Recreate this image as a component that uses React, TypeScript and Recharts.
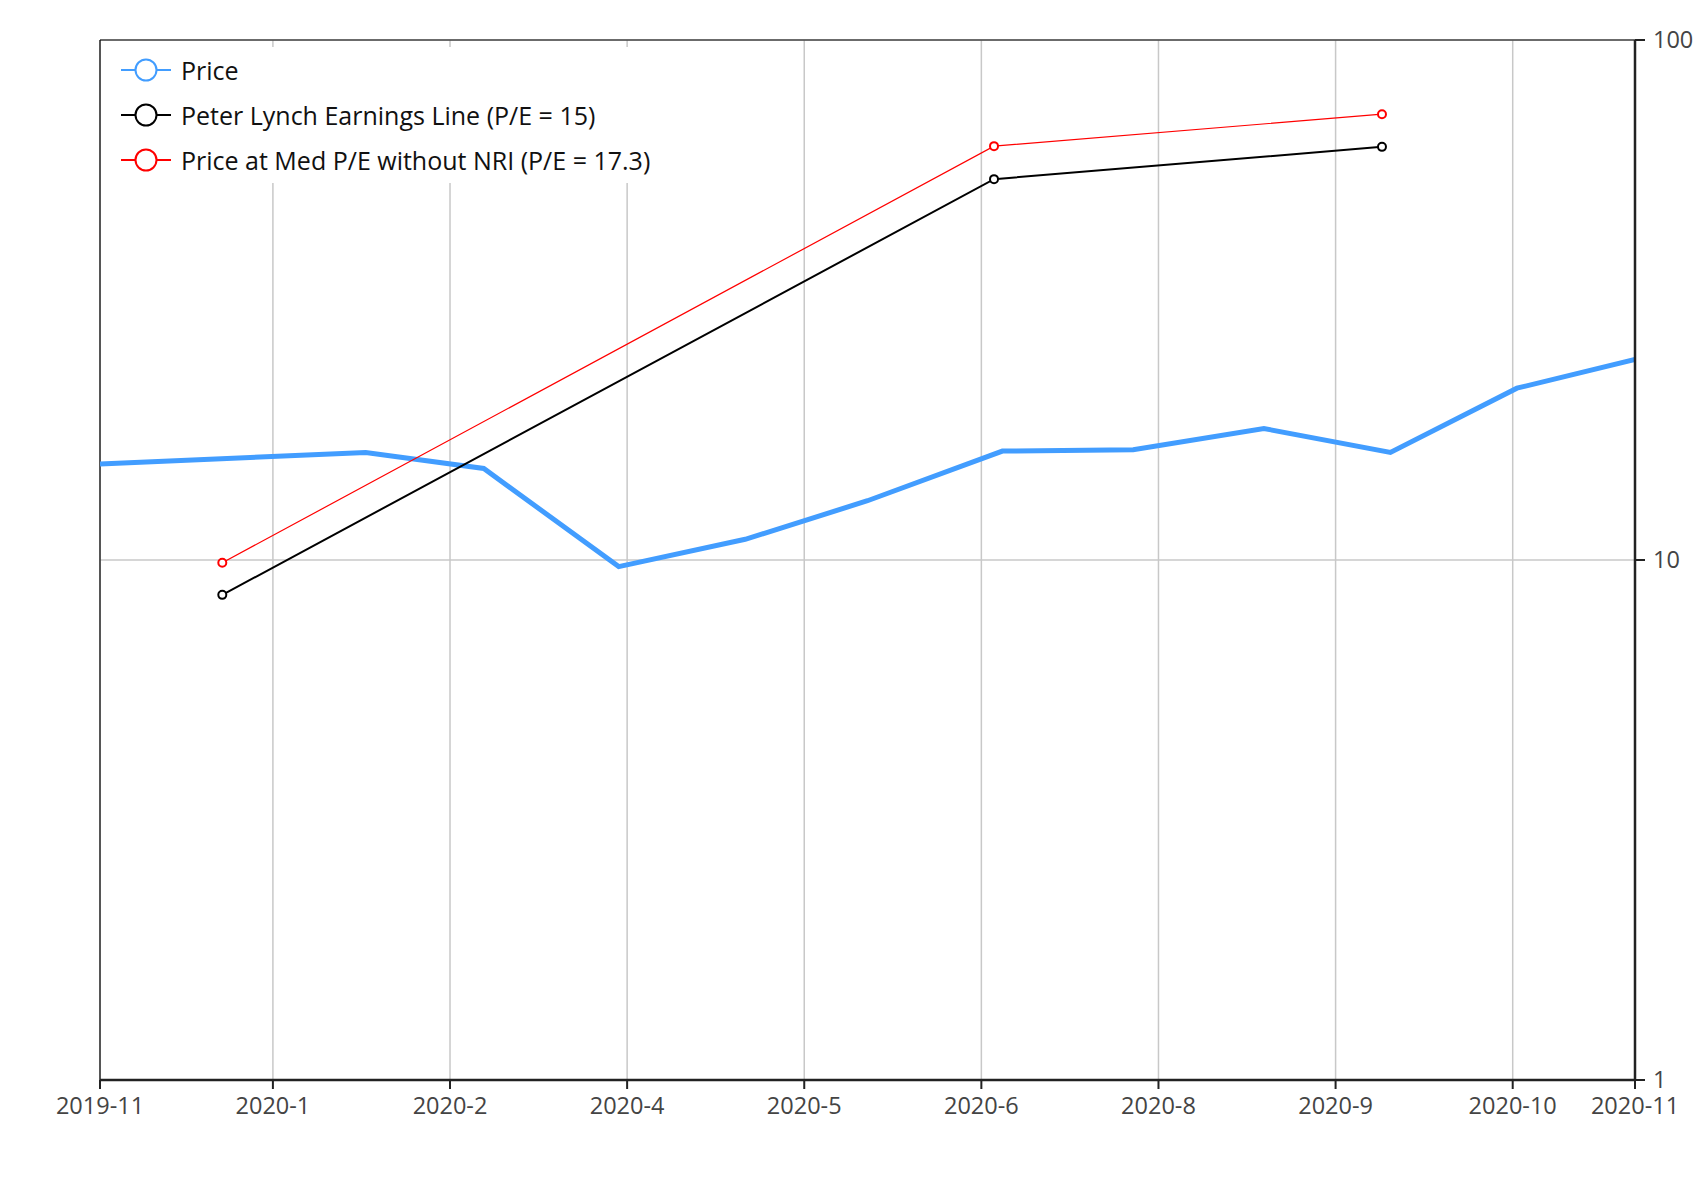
import React from "react";
import { CartesianGrid, Legend, Line, LineChart, ReferenceLine, XAxis, YAxis } from "recharts";

// monthly closing prices
const priceDates = [
  "2019-11-29", "2020-01-31", "2020-02-28", "2020-03-31", "2020-04-30", "2020-05-29",
  "2020-06-30", "2020-07-31", "2020-08-31", "2020-09-30", "2020-10-30", "2020-11-27",
];
const priceValues = [15.3, 16.1, 15.0, 9.71, 10.96, 13.0, 16.2, 16.3, 17.9, 16.1, 21.4, 24.3];

// quarterly earnings based lines
const earningsDates = ["2019-12-28", "2020-06-28", "2020-09-28"];
const lynchValues = [8.57, 54.0, 62.3];
const medPeValues = [9.88, 62.5, 72.0];

const seriesNames = [
  "Price",
  "Peter Lynch Earnings Line (P/E = 15)",
  "Price at Med P/E without NRI (P/E = 17.3)",
];

const xTickDates = [
  "2019-11-29", "2020-01-09", "2020-02-20", "2020-04-02", "2020-05-14",
  "2020-06-25", "2020-08-06", "2020-09-17", "2020-10-29", "2020-11-27",
];
const xTickLabels = [
  "2019-11", "2020-1", "2020-2", "2020-4", "2020-5",
  "2020-6", "2020-8", "2020-9", "2020-10", "2020-11",
];
const yTicks = [1, 10, 100];

const toTime = (s: string) => Date.parse(s + "T00:00:00Z");
const xTicks = xTickDates.map(toTime);

const priceData = priceDates.map((d, i) => ({ t: toTime(d), v: priceValues[i] }));
const lynchData = earningsDates.map((d, i) => ({ t: toTime(d), v: lynchValues[i] }));
const medPeData = earningsDates.map((d, i) => ({ t: toTime(d), v: medPeValues[i] }));

const FONT = "'Open Sans', 'Noto Sans', sans-serif";

function LegendBox({ payload }: any) {
  const items = [...(payload || [])].sort(
    (a: any, b: any) => seriesNames.indexOf(a.value) - seriesNames.indexOf(b.value)
  );
  return (
    <div style={{ background: "#fff", width: 580, height: 136, paddingLeft: 20, boxSizing: "border-box" }}>
      {items.map((p: any) => (
        <div key={p.value} style={{ display: "flex", alignItems: "center", height: 45 }}>
          <svg width={50} height={26}>
            <line x1={0} y1={13} x2={50} y2={13} stroke={p.color} strokeWidth={2} />
            <circle cx={25} cy={13} r={10.5} fill="#fff" stroke={p.color} strokeWidth={2} />
          </svg>
          <span style={{ marginLeft: 10, fontSize: 25, color: "#111", fontFamily: FONT, whiteSpace: "nowrap" }}>
            {p.value}
          </span>
        </div>
      ))}
    </div>
  );
}

export default function App() {
  return (
    <div style={{ width: 1694, height: 1200, fontFamily: FONT, background: "#fff" }}>
      <style>{`body{margin:0}`}</style>
      <LineChart width={1694} height={1200} margin={{ top: 40, right: 0, bottom: 80, left: 100 }}>
        <CartesianGrid stroke="#c8c8c8" strokeWidth={1.5} />
        <XAxis
          dataKey="t"
          type="number"
          scale="time"
          domain={[xTicks[0], xTicks[xTicks.length - 1]]}
          ticks={xTicks}
          interval={0}
          allowDataOverflow
          tickFormatter={(v) => xTickLabels[xTicks.indexOf(v)]}
          height={40}
          tickSize={9}
          tickMargin={8}
          axisLine={{ stroke: "#222", strokeWidth: 2.5 }}
          tickLine={{ stroke: "#222", strokeWidth: 2 }}
          tick={{ fill: "#444", fontSize: 23.5, fontFamily: FONT }}
        />
        <YAxis
          orientation="right"
          type="number"
          scale="log"
          domain={[1, 100]}
          ticks={yTicks}
          allowDataOverflow
          width={59}
          tickSize={10}
          tickMargin={8}
          axisLine={{ stroke: "#222", strokeWidth: 2.5 }}
          tickLine={{ stroke: "#222", strokeWidth: 2 }}
          tick={{ fill: "#444", fontSize: 23.5, fontFamily: FONT }}
        />
        <ReferenceLine x={xTicks[0]} stroke="#000" strokeWidth={1.2} />
        <ReferenceLine y={100} stroke="#000" strokeWidth={1.2} />
        <Legend
          layout="vertical"
          align="center"
          verticalAlign="middle"
          content={<LegendBox />}
          wrapperStyle={{ left: 101, top: 47, width: 580, height: 136 }}
        />
        <Line
          data={priceData}
          dataKey="v"
          name={seriesNames[0]}
          type="linear"
          stroke="#429dff"
          strokeWidth={5}
          dot={false}
          activeDot={false}
          isAnimationActive={false}
        />
        <Line
          data={lynchData}
          dataKey="v"
          name={seriesNames[1]}
          type="linear"
          stroke="#000"
          strokeWidth={2}
          dot={{ r: 4, fill: "#fff", stroke: "#000", strokeWidth: 2 }}
          activeDot={false}
          isAnimationActive={false}
        />
        <Line
          data={medPeData}
          dataKey="v"
          name={seriesNames[2]}
          type="linear"
          stroke="#ff0000"
          strokeWidth={1.2}
          dot={{ r: 4, fill: "#fff", stroke: "#ff0000", strokeWidth: 2 }}
          activeDot={false}
          isAnimationActive={false}
        />
      </LineChart>
    </div>
  );
}
